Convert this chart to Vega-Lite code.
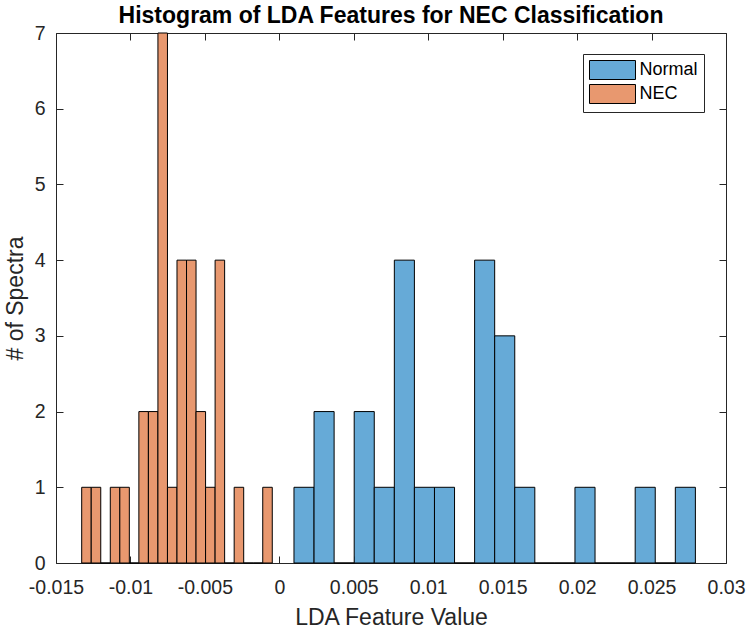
{
  "$schema": "https://vega.github.io/schema/vega-lite/v6.json",
  "width": 670,
  "height": 530,
  "autosize": {"type": "none"},
  "padding": {"left": 56, "top": 33, "right": 24, "bottom": 70},
  "background": "white",
  "title": {
    "text": "Histogram of LDA Features for NEC Classification",
    "font": "Liberation Sans",
    "fontSize": 23,
    "fontWeight": "bold",
    "color": "#000000",
    "anchor": "middle",
    "offset": 3,
    "dy": 8
  },
  "config": {
    "view": {"stroke": "#262626", "strokeWidth": 1},
    "font": "Liberation Sans"
  },
  "data": {
    "values": [
      {"group": "Normal", "bin_start": 0.000984, "bin_end": 0.002332, "count": 1},
      {"group": "Normal", "bin_start": 0.002332, "bin_end": 0.003680, "count": 2},
      {"group": "Normal", "bin_start": 0.003680, "bin_end": 0.005028, "count": 0},
      {"group": "Normal", "bin_start": 0.005028, "bin_end": 0.006376, "count": 2},
      {"group": "Normal", "bin_start": 0.006376, "bin_end": 0.007724, "count": 1},
      {"group": "Normal", "bin_start": 0.007724, "bin_end": 0.009072, "count": 4},
      {"group": "Normal", "bin_start": 0.009072, "bin_end": 0.010420, "count": 1},
      {"group": "Normal", "bin_start": 0.010420, "bin_end": 0.011768, "count": 1},
      {"group": "Normal", "bin_start": 0.011768, "bin_end": 0.013116, "count": 0},
      {"group": "Normal", "bin_start": 0.013116, "bin_end": 0.014464, "count": 4},
      {"group": "Normal", "bin_start": 0.014464, "bin_end": 0.015812, "count": 3},
      {"group": "Normal", "bin_start": 0.015812, "bin_end": 0.017160, "count": 1},
      {"group": "Normal", "bin_start": 0.017160, "bin_end": 0.018508, "count": 0},
      {"group": "Normal", "bin_start": 0.018508, "bin_end": 0.019856, "count": 0},
      {"group": "Normal", "bin_start": 0.019856, "bin_end": 0.021204, "count": 1},
      {"group": "Normal", "bin_start": 0.021204, "bin_end": 0.022552, "count": 0},
      {"group": "Normal", "bin_start": 0.022552, "bin_end": 0.023900, "count": 0},
      {"group": "Normal", "bin_start": 0.023900, "bin_end": 0.025248, "count": 1},
      {"group": "Normal", "bin_start": 0.025248, "bin_end": 0.026596, "count": 0},
      {"group": "Normal", "bin_start": 0.026596, "bin_end": 0.027944, "count": 1},
      {"group": "NEC", "bin_start": -0.013274, "bin_end": -0.012634, "count": 1},
      {"group": "NEC", "bin_start": -0.012634, "bin_end": -0.011994, "count": 1},
      {"group": "NEC", "bin_start": -0.011994, "bin_end": -0.011354, "count": 0},
      {"group": "NEC", "bin_start": -0.011354, "bin_end": -0.010714, "count": 1},
      {"group": "NEC", "bin_start": -0.010714, "bin_end": -0.010074, "count": 1},
      {"group": "NEC", "bin_start": -0.010074, "bin_end": -0.009434, "count": 0},
      {"group": "NEC", "bin_start": -0.009434, "bin_end": -0.008794, "count": 2},
      {"group": "NEC", "bin_start": -0.008794, "bin_end": -0.008154, "count": 2},
      {"group": "NEC", "bin_start": -0.008154, "bin_end": -0.007514, "count": 7},
      {"group": "NEC", "bin_start": -0.007514, "bin_end": -0.006874, "count": 1},
      {"group": "NEC", "bin_start": -0.006874, "bin_end": -0.006234, "count": 4},
      {"group": "NEC", "bin_start": -0.006234, "bin_end": -0.005594, "count": 4},
      {"group": "NEC", "bin_start": -0.005594, "bin_end": -0.004954, "count": 2},
      {"group": "NEC", "bin_start": -0.004954, "bin_end": -0.004314, "count": 1},
      {"group": "NEC", "bin_start": -0.004314, "bin_end": -0.003674, "count": 4},
      {"group": "NEC", "bin_start": -0.003674, "bin_end": -0.003034, "count": 0},
      {"group": "NEC", "bin_start": -0.003034, "bin_end": -0.002394, "count": 1},
      {"group": "NEC", "bin_start": -0.002394, "bin_end": -0.001754, "count": 0},
      {"group": "NEC", "bin_start": -0.001754, "bin_end": -0.001114, "count": 0},
      {"group": "NEC", "bin_start": -0.001114, "bin_end": -0.000474, "count": 1}
    ]
  },
  "resolve": {"axis": {"x": "independent", "y": "independent"}},
  "layer": [
    {
      "mark": {"type": "bar", "stroke": "#000000", "strokeWidth": 1, "opacity": 1},
      "encoding": {
        "x": {
          "field": "bin_start",
          "type": "quantitative",
          "scale": {"domain": [-0.015, 0.03], "nice": false, "zero": false},
          "axis": {
            "orient": "bottom",
            "title": "LDA Feature Value",
            "values": [-0.015, -0.01, -0.005, 0, 0.005, 0.01, 0.015, 0.02, 0.025, 0.03],
            "labelExpr": "'' + datum.value",
            "grid": false,
            "domain": false,
            "tickSize": -7,
            "tickColor": "#262626",
            "labelFontSize": 19.5,
            "labelColor": "#262626",
            "labelFont": "Liberation Sans",
            "labelPadding": 22,
            "labelFlush": false,
            "labelOverlap": false,
            "titleFontSize": 23,
            "titleFontWeight": "normal",
            "titleColor": "#262626",
            "titleFont": "Liberation Sans",
            "titlePadding": 10
          }
        },
        "x2": {"field": "bin_end"},
        "y": {
          "field": "count",
          "type": "quantitative",
          "scale": {"domain": [0, 7], "nice": false},
          "axis": {
            "orient": "left",
            "title": "# of Spectra",
            "values": [0, 1, 2, 3, 4, 5, 6, 7],
            "grid": false,
            "domain": false,
            "tickSize": -7,
            "tickColor": "#262626",
            "labelFontSize": 19.5,
            "labelColor": "#262626",
            "labelFont": "Liberation Sans",
            "labelPadding": 18,
            "labelFlush": false,
            "labelOverlap": false,
            "titleFontSize": 23,
            "titleFontWeight": "normal",
            "titleColor": "#262626",
            "titleFont": "Liberation Sans",
            "titlePadding": 7
          }
        },
        "y2": {"datum": 0},
        "color": {
          "field": "group",
          "type": "nominal",
          "scale": {"domain": ["Normal", "NEC"], "range": ["#66AAD7", "#E8986F"]},
          "legend": {
            "title": null,
            "orient": "none",
            "legendX": 527,
            "legendY": 21,
            "fillColor": "#FFFFFF",
            "strokeColor": "#262626",
            "padding": 6,
            "symbolType": "M-2.42,-1H2.42V1H-2.42Z",
            "symbolSize": 361,
            "symbolOffset": 13.5,
            "symbolStrokeColor": "#000000",
            "symbolStrokeWidth": 1,
            "symbolOpacity": 1,
            "labelFontSize": 18,
            "labelFont": "Liberation Sans",
            "labelColor": "#000000",
            "labelOffset": 17,
            "rowPadding": 0
          }
        }
      }
    },
    {
      "mark": {"type": "bar", "opacity": 0},
      "encoding": {
        "x": {
          "field": "bin_start",
          "type": "quantitative",
          "axis": {
            "orient": "top",
            "title": null,
            "labels": false,
            "values": [-0.015, -0.01, -0.005, 0, 0.005, 0.01, 0.015, 0.02, 0.025, 0.03],
            "grid": false,
            "domain": false,
            "tickSize": -7,
            "tickColor": "#262626"
          }
        },
        "x2": {"field": "bin_end"},
        "y": {
          "field": "count",
          "type": "quantitative",
          "axis": {
            "orient": "right",
            "title": null,
            "labels": false,
            "values": [0, 1, 2, 3, 4, 5, 6, 7],
            "grid": false,
            "domain": false,
            "tickSize": -7,
            "tickColor": "#262626"
          }
        },
        "y2": {"datum": 0}
      }
    }
  ]
}
